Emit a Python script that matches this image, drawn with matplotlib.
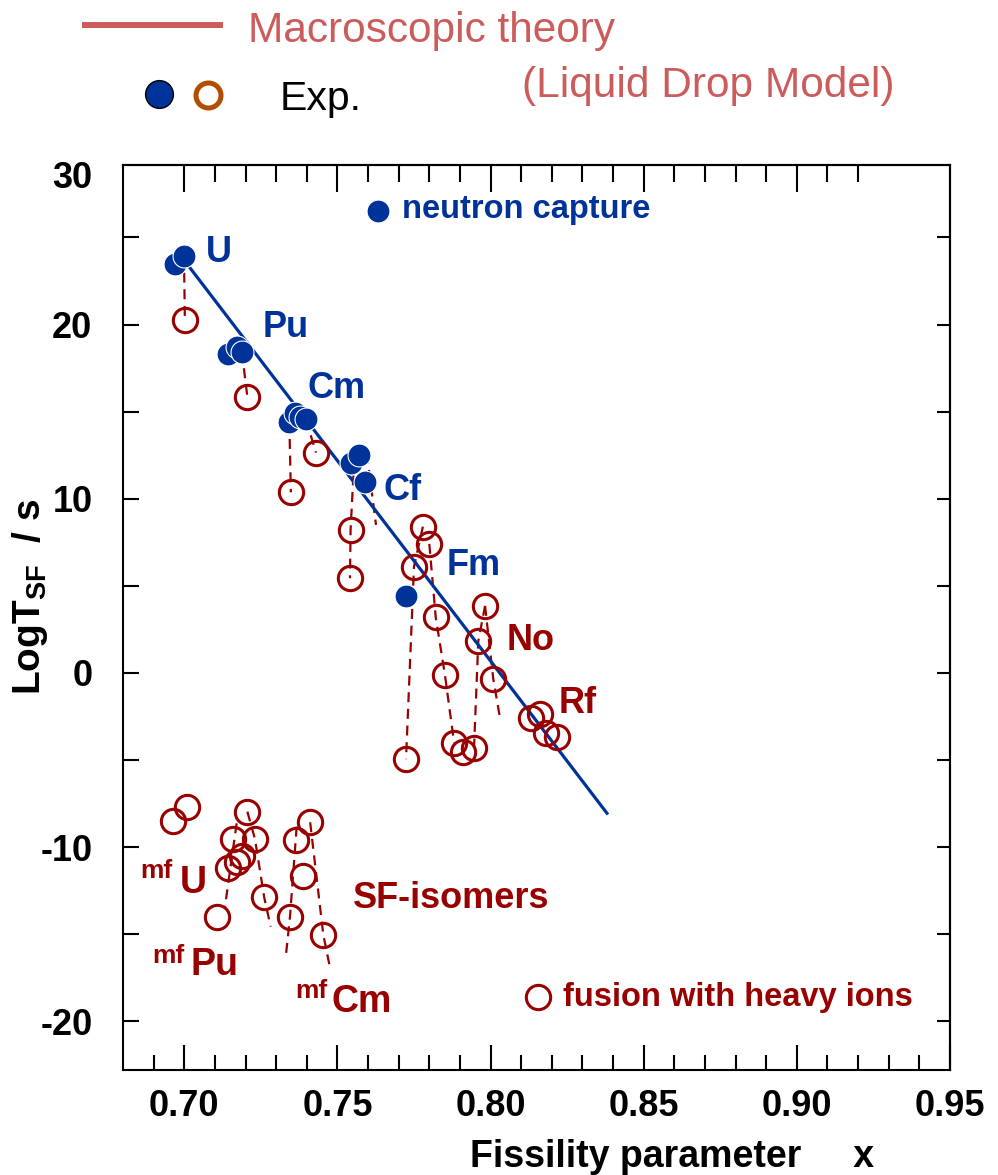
import matplotlib
matplotlib.use('Agg')
import matplotlib.pyplot as plt
import numpy as np
from matplotlib.lines import Line2D
from matplotlib.ticker import FixedLocator, NullFormatter

plt.rcParams['font.family'] = ['Liberation Sans', 'DejaVu Sans']
plt.rcParams['mathtext.fontset'] = 'custom'
plt.rcParams['mathtext.rm'] = 'Liberation Sans'
plt.rcParams['mathtext.bf'] = 'Liberation Sans:bold'

BLUE = '#003399'
DRED = '#990000'
PINK = '#CC5C5C'
ORANGE = '#B34D00'

# neutron capture (filled)
nc_x = [0.6970, 0.6999, 0.7144, 0.7171, 0.7188, 0.7343, 0.7362, 0.7378, 0.7397,
        0.7543, 0.7571, 0.7590, 0.7724]
nc_y = [23.46, 23.94, 18.31, 18.70, 18.44, 14.39, 14.91, 14.71, 14.56,
        12.04, 12.51, 10.98, 4.44]

# fusion with heavy ions (open)
fu_x = [0.7002, 0.7206, 0.7430, 0.7348, 0.7543, 0.7541, 0.7779, 0.7800, 0.7750,
        0.7821, 0.7851, 0.7724, 0.7881, 0.7909, 0.7946, 0.7982, 0.7960, 0.8009,
        0.8132, 0.8161, 0.8181, 0.8216]
fu_y = [20.26, 15.86, 12.65, 10.37, 8.21, 5.44, 8.40, 7.41, 6.10,
        3.20, -0.11, -4.95, -4.00, -4.52, -4.29, 3.85, 1.84, -0.36,
        -2.57, -2.35, -3.46, -3.69]

# SF-isomers (open)
iso_x = [0.6962, 0.7010, 0.7206, 0.7158, 0.7231, 0.7188, 0.7144, 0.7171, 0.7108,
         0.7261, 0.7365, 0.7411, 0.7387, 0.7345, 0.7454]
iso_y = [-8.50, -7.67, -7.96, -9.53, -9.55, -10.50, -11.21, -10.83, -13.99,
         -12.88, -9.59, -8.57, -11.65, -14.02, -15.04]

# dashed connections (isotope chains)
chains = [
    ([0.6999, 0.7002], [23.94, 20.26]),
    ([0.7188, 0.7206], [18.44, 15.86]),
    ([0.7397, 0.7430], [14.56, 12.65]),
    ([0.7343, 0.7348], [14.39, 10.37]),
    ([0.7555, 0.7543, 0.7541], [12.30, 8.21, 5.44]),
    ([0.7596, 0.7626], [12.60, 8.50]),
    ([0.7779, 0.7750, 0.7724], [8.40, 6.10, -4.95]),
    ([0.7800, 0.7821, 0.7851, 0.7881], [7.41, 3.20, -0.11, -4.00]),
    ([0.7982, 0.7960, 0.7946], [3.85, 1.84, -4.29]),
    ([0.7982, 0.8009, 0.8030], [3.85, -0.36, -2.51]),
    ([0.7171, 0.7133], [-8.63, -13.41]),
    ([0.7206, 0.7231, 0.7261, 0.7282], [-7.96, -9.55, -12.88, -14.56]),
    ([0.7367, 0.7345, 0.7332], [-8.82, -14.02, -16.19]),
    ([0.7411, 0.7454, 0.7474], [-8.57, -15.04, -16.76]),
]

# liquid drop model line
ldm_x = [0.7019, 0.8380]
ldm_y = [23.25, -8.05]

xticks_major = [0.70, 0.75, 0.80, 0.85, 0.90, 0.95]
xtick_labels = ['0.70', '0.75', '0.80', '0.85', '0.90', '0.95']
yticks_major = [-20, -10, 0, 10, 20, 28.6]
ytick_labels = ['-20', '-10', '0', '10', '20', '30']

fig = plt.figure(figsize=(9.98, 11.75), dpi=100)
ax = fig.add_axes([0.12325, 0.08936, 0.82866, 0.76979])
ax.set_xlim(0.68, 0.95)
ax.set_ylim(-22.79, 29.13)

for cx, cy in chains:
    ax.plot(cx, cy, color=DRED, lw=1.6, ls=(0, (4.5, 3)), zorder=2)

ax.plot(ldm_x, ldm_y, color=BLUE, lw=2.3, zorder=3)

ax.plot(fu_x, fu_y, 'o', ms=17.5, mfc='none', mec=DRED, mew=2.2, zorder=4)
ax.plot(iso_x, iso_y, 'o', ms=17.5, mfc='none', mec=DRED, mew=2.2, zorder=4)
ax.plot(nc_x, nc_y, 'o', ms=16.5, mfc=BLUE, mec='white', mew=0.8, zorder=5)

# in-plot keys
ax.plot([0.7632], [26.52], 'o', ms=16.5, mfc=BLUE, mec='white', mew=0.8)
ax.text(0.7711, 26.1, 'neutron capture', color=BLUE, fontsize=23.5,
        fontweight='bold', va='baseline')
ax.plot([0.8154], [-18.58], 'o', ms=17.5, mfc='none', mec=DRED, mew=2.2)
ax.text(0.8237, -19.1, 'fusion with heavy ions', color=DRED, fontsize=23.5,
        fontweight='bold', va='baseline')

# element labels
for s, x, y, c in [('U', 0.7071, 23.59, BLUE), ('Pu', 0.7257, 19.29, BLUE),
                   ('Cm', 0.7401, 15.77, BLUE), ('Cf', 0.7649, 9.93, BLUE),
                   ('Fm', 0.7857, 5.63, BLUE), ('No', 0.8054, 1.32, DRED),
                   ('Rf', 0.8223, -2.31, DRED), ('SF-isomers', 0.7549, -13.51, DRED)]:
    ax.text(x, y, s, color=c, fontsize=26, fontweight='bold', va='baseline')

for sup, el, xs, ys, xe, ye in [('mf', 'U', 0.6855, -11.77, 0.6986, -12.63),
                                ('mf', 'Pu', 0.6897, -16.63, 0.7021, -17.34),
                                ('mf', 'Cm', 0.7362, -18.66, 0.7481, -19.44)]:
    ax.text(xs, ys, sup, color=DRED, fontsize=19, fontweight='bold', va='baseline')
    ax.text(xe, ye, el, color=DRED, fontsize=27, fontweight='bold', va='baseline')

# ticks
ax.xaxis.set_major_locator(FixedLocator(xticks_major))
ax.set_xticklabels(xtick_labels)
ax.xaxis.set_minor_locator(FixedLocator(np.round(np.arange(0.69, 0.945, 0.01), 2)))
ax.yaxis.set_major_locator(FixedLocator(yticks_major))
ax.set_yticklabels(ytick_labels)
ax.yaxis.set_minor_locator(FixedLocator(np.arange(-20, 26, 5)))
ax.yaxis.remove_overlapping_locs = False
ax.tick_params(axis='x', which='major', direction='in', length=18, width=1.5,
               labelsize=26, pad=14, top=False)
ax.tick_params(axis='x', which='minor', direction='in', length=11, width=1.5, top=False)
ax.tick_params(axis='y', which='major', direction='in', length=0, labelsize=26,
               pad=22, right=False)
ax.tick_params(axis='y', which='minor', direction='in', length=11.5, width=1.5,
               right=False)
for lab in ax.get_xticklabels() + ax.get_yticklabels():
    lab.set_fontweight('bold')

top = ax.secondary_xaxis('top')
top.xaxis.set_major_locator(FixedLocator([0.70, 0.75, 0.80, 0.85, 0.90]))
top.xaxis.set_minor_locator(FixedLocator(np.round(np.arange(0.71, 0.925, 0.01), 2)))
top.xaxis.set_major_formatter(NullFormatter())
top.tick_params(which='major', direction='in', length=19.5, width=1.5)
top.tick_params(which='minor', direction='in', length=12, width=1.5)
top.spines['top'].set_linewidth(1.5)

right = ax.secondary_yaxis('right')
right.yaxis.set_major_locator(FixedLocator(np.arange(-20, 26, 5)))
right.yaxis.set_major_formatter(NullFormatter())
right.tick_params(which='major', direction='in', length=9.5, width=1.5)
right.spines['right'].set_linewidth(1.5)

for sp in ax.spines.values():
    sp.set_linewidth(1.5)

ax.set_xlabel('Fissility parameter     x', fontsize=27, fontweight='bold', va='top')
ax.xaxis.set_label_coords(0.664, -0.076)
ax.set_ylabel(r'LogT$_\mathbf{SF}$  / s', fontsize=28, fontweight='bold')
ax.yaxis.set_label_coords(-0.088, 0.523)

# legend-like header above the axes
fig.add_artist(Line2D([0.0849, 0.2200], [0.9787, 0.9787], color=PINK, lw=4.3,
                      transform=fig.transFigure))
fig.text(0.2485, 0.9645, 'Macroscopic theory', color=PINK, fontsize=30.5, va='baseline')
fig.text(0.523, 0.9174, '(Liquid Drop Model)', color=PINK, fontsize=30.5, va='baseline')
fig.add_artist(Line2D([0.1593], [0.920], marker='o', ms=20, mfc=BLUE, mec='black',
                      mew=1, transform=fig.transFigure))
fig.add_artist(Line2D([0.2089], [0.9194], marker='o', ms=18, mfc='white', mec=ORANGE,
                      mew=3.6, transform=fig.transFigure))
fig.text(0.2806, 0.9064, 'Exp.', color='black', fontsize=29.5, va='baseline')

fig.savefig('out.png', dpi=100)
